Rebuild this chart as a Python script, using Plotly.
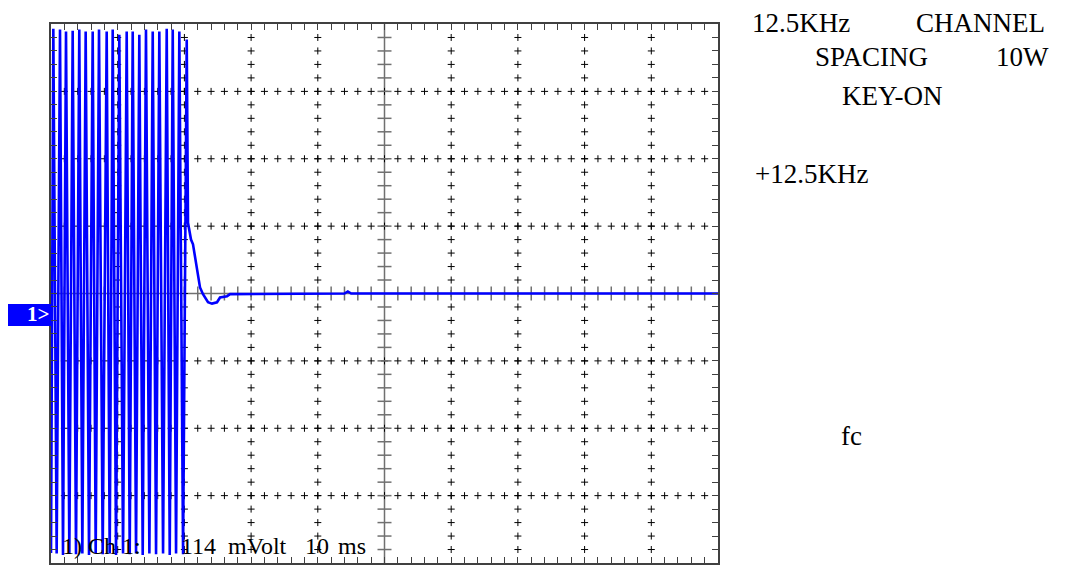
import numpy as np
import plotly.graph_objects as go

# ---- data (x in ms, y in divisions) ----
start_t = [0.0]
start_v = [-3.85]
peak_t = [0.35, 1.35, 2.25, 3.25, 4.24, 5.2, 6.25, 7.2, 8.35, 9.25, 10.24,
          11.35, 12.25, 13.24, 14.24, 15.25, 16.24, 17.35, 18.25, 19.24, 20.35]
peak_v = [3.93, 3.92, 3.89, 3.90, 3.92, 3.89, 3.89, 3.92, 3.89, 3.92, 3.84,
          3.89, 3.89, 3.84, 3.92, 3.89, 3.89, 3.93, 3.92, 3.89, 3.77]
trough_t = [0.85, 1.8, 2.75, 3.75, 4.7, 5.7, 6.7, 7.75, 8.8, 9.75, 10.8,
            11.8, 12.75, 13.75, 14.75, 15.75, 16.8, 17.8, 18.75, 19.8]
trough_v = [-3.86, -3.88, -3.86, -3.87, -3.86, -3.88, -3.86, -3.87, -3.86, -3.88, -3.86,
            -3.87, -3.86, -3.88, -3.86, -3.87, -3.86, -3.88, -3.86, -3.87]
tail_t = [20.54, 20.99, 21.29, 21.59, 22.04, 22.34, 22.79, 23.54, 24.14, 24.89,
          25.34, 26.39, 26.84, 44.0, 44.5, 45.0, 100.0]
tail_v = [1.05, 0.80, 0.73, 0.55, 0.24, 0.09, -0.01, -0.13, -0.15, -0.13,
          -0.06, -0.04, -0.01, 0.0, 0.03, 0.0, 0.0]

# interleave peaks and troughs
sig_t = list(start_t)
sig_v = list(start_v)
for i in range(len(peak_t)):
    sig_t.append(peak_t[i]); sig_v.append(peak_v[i])
    if i < len(trough_t):
        sig_t.append(trough_t[i]); sig_v.append(trough_v[i])
sig_t += tail_t
sig_v += tail_v

X_RANGE = [0, 100]
Y_RANGE = [-4, 4]
CX, CY = 50, 0

fig = go.Figure()

# dotted graticule made of small crosses
gx, gy = [], []
for xm in range(10, 100, 10):
    if xm == CX:
        continue
    for k in range(1, 40):
        gx.append(xm); gy.append(-4 + 0.2 * k)
for ym in [-3, -2, -1, 1, 2, 3]:
    for k in range(1, 50):
        gx.append(2 * k); gy.append(ym)
fig.add_trace(go.Scatter(x=gx, y=gy, mode="markers", hoverinfo="skip",
                         marker=dict(symbol="cross-thin", size=5,
                                     line=dict(width=1, color="#000000"))))

# center axes ticks
tx = [2 * k for k in range(1, 50) if 2 * k != CX]
fig.add_trace(go.Scatter(x=tx, y=[CY] * len(tx), mode="markers", hoverinfo="skip",
                         marker=dict(symbol="line-ns", size=10,
                                     line=dict(width=1.5, color="#707070"))))
ty = [round(-4 + 0.2 * k, 2) for k in range(1, 40) if k != 20]
fig.add_trace(go.Scatter(x=[CX] * len(ty), y=ty, mode="markers", hoverinfo="skip",
                         marker=dict(symbol="line-ew", size=10,
                                     line=dict(width=1.5, color="#707070"))))

# signal
fig.add_trace(go.Scatter(x=sig_t, y=sig_v, mode="lines", hoverinfo="skip",
                         line=dict(color="#0000FF", width=2.6)))

fig.add_shape(type="line", x0=CX, x1=CX, y0=Y_RANGE[0], y1=Y_RANGE[1],
              line=dict(color="#707070", width=1.5), layer="below")
fig.add_shape(type="line", x0=X_RANGE[0], x1=X_RANGE[1], y0=CY, y1=CY,
              line=dict(color="#707070", width=1.5), layer="below")

# channel marker "1>"
fig.add_shape(type="rect", xref="paper", yref="paper",
              x0=-0.0675, x1=0.0, y0=0.4397, y1=0.4805,
              fillcolor="#0000FF", line=dict(width=0))

W_PLOT = 667.0
H_PLOT = 539.0
L, T = 51, 24   # on-screen position of the plot area


def px(xp):
    return (xp - L) / W_PLOT


def py(yp):
    return 1 - (yp - T) / H_PLOT


serif = "Liberation Serif"
ann = []


def add_text(text, x, y, anchor, size, color="#000000", bold=False):
    t = "<b>" + text + "</b>" if bold else text
    ann.append(dict(text=t, x=px(x), y=py(y), xref="paper", yref="paper",
                    xanchor=anchor, yanchor="middle", showarrow=False,
                    font=dict(family=serif, size=size, color=color)))


add_text("1&gt;", 51, 314, "right", 21, color="#FFFFFF", bold=True)

FS = 27
add_text("12.5KHz", 801, 23, "center", FS)
add_text("CHANNEL", 980, 23, "center", FS)
add_text("SPACING", 871, 57, "center", FS)
add_text("10W", 1022, 57, "center", FS)
add_text("KEY-ON", 892, 96, "center", FS)
add_text("+12.5KHz", 811, 174, "center", FS)
add_text("fc", 851, 436, "center", FS)

bottom_words = ["1)", "Ch", "1:", "114", "mVolt", "10", "ms"]
bottom_center = [71.5, 101.5, 131, 198.5, 257.5, 316.5, 351.5]
for w, xc in zip(bottom_words, bottom_center):
    add_text(w, xc, 546, "center", 24)

axis_common = dict(showgrid=False, zeroline=False, showticklabels=False,
                   ticks="inside", ticklen=6, tickwidth=1.2, tickcolor="#404040",
                   showline=True, linecolor="#404040", linewidth=1.5,
                   mirror="ticks", fixedrange=True)

# the page body adds an 8 px offset, so the margins are reduced by it
fig.update_layout(
    width=1074, height=566,
    margin=dict(l=43, r=364, t=16, b=11),
    paper_bgcolor="#FFFFFF", plot_bgcolor="#FFFFFF",
    showlegend=False,
    xaxis=dict(range=X_RANGE, tick0=0, dtick=2, **axis_common),
    yaxis=dict(range=Y_RANGE, tick0=-4, dtick=0.2, **axis_common),
    annotations=ann,
)

fig.write_html("out.html")
